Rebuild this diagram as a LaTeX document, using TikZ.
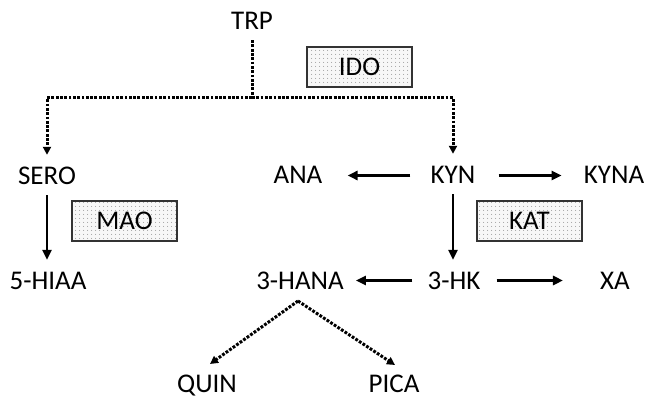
\documentclass[tikz,border=0pt]{standalone}
\usepackage{fontspec}
\setmainfont{Carlito}
\usetikzlibrary{arrows.meta,patterns.meta}
\begin{document}
\begin{tikzpicture}[x=1pt,y=-1pt,
  lbl/.style={inner sep=0pt,anchor=base,text height=17pt,text depth=0pt,font=\fontsize{27}{32}\selectfont},
  enzyme/.style={draw=black!80,line width=1.2pt,minimum width=105pt,minimum height=40pt,inner sep=0pt,
    preaction={fill=gray!6},pattern={Dots[distance=4pt,radius=0.55pt]},pattern color=black!55,
    font=\fontsize{27}{32}\selectfont},
  sarr/.style={line width=2.6pt,-{Triangle[length=10pt,width=9pt]}},
  dline/.style={line width=3pt,dash pattern=on 2.8pt off 1.5pt},
  darr/.style={dline,-{Triangle[length=8pt,width=8pt]}}]
\useasboundingbox (0,0) rectangle (645,398);
% labels
\node[lbl] (trp)  at (252,30) {TRP};
\node[lbl] (sero) at (47,185) {SERO};
\node[lbl] (ana)  at (298,184) {ANA};
\node[lbl] (kyn)  at (453,184) {KYN};
\node[lbl] (kyna) at (614,184) {KYNA};
\node[lbl] (hiaa) at (48,289) {5-HIAA};
\node[lbl] (hana) at (300,289) {3-HANA};
\node[lbl] (hk)   at (454,289) {3-HK};
\node[lbl] (xa)   at (615,289) {XA};
\node[lbl] (quin) at (207,392) {QUIN};
\node[lbl] (pica) at (394,392) {PICA};
% enzymes
\node[enzyme] (ido) at (359.5,67) {IDO};
\node[enzyme] (mao) at (124.5,221) {MAO};
\node[enzyme] (kat) at (529.5,221) {KAT};
% dotted tree from TRP
\coordinate (j) at (252,98);
\draw[dline,shorten <=10pt] (trp.south) -- (j);
\draw[darr,shorten >=13pt] (j) -| (sero.north);
\draw[darr,shorten >=13pt] (j) -| (kyn.north);
% solid arrows
\draw[sarr,shorten <=10pt,shorten >=12pt] (sero.south) -- (hiaa.north -| sero.south);
\draw[sarr,shorten <=10pt,shorten >=12pt] (kyn.south) -- (hk.north -| kyn.south);
\draw[sarr,shorten <=20pt,shorten >=25pt] (kyn.west) -- (ana.east);
\draw[sarr,shorten <=23pt,shorten >=22pt] (kyn.east) -- (kyna.west);
\draw[sarr,shorten <=15pt,shorten >=12pt] (hk.west) -- (hana.east);
\draw[sarr,shorten <=16pt,shorten >=37pt] (hk.east) -- (xa.west);
% dotted from 3-HANA
\coordinate (apex) at (298,301);
\coordinate (qtip) at (210,364);
\coordinate (ptip) at (395,365);
\draw[darr] (apex) -- (qtip);
\draw[darr] (apex) -- (ptip);
\end{tikzpicture}
\end{document}
